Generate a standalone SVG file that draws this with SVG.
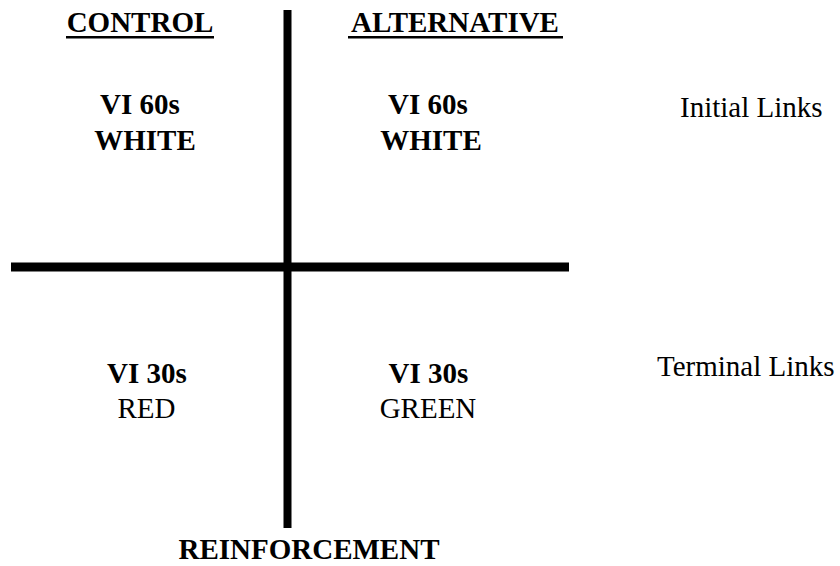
<svg xmlns="http://www.w3.org/2000/svg" width="840" height="566" viewBox="0 0 840 566">
<style>
text{font-family:"Liberation Serif","Times New Roman",serif;font-size:29px;fill:#000}
.b{font-weight:bold}
.c{text-anchor:middle}
</style>
<rect width="840" height="566" fill="#fff"/>
<g id="connectors">
<line x1="287.5" y1="10" x2="287.5" y2="528" stroke="#000" stroke-width="8"/>
<line x1="11" y1="267" x2="569" y2="267" stroke="#000" stroke-width="9"/>
</g>
<g id="control-header">
<text class="b c" x="140" y="32">CONTROL</text>
<line x1="66" y1="37.2" x2="214" y2="37.2" stroke="#000" stroke-width="2.5"/>
</g>
<g id="alternative-header">
<text class="b c" x="455" y="32">ALTERNATIVE</text>
<line x1="348" y1="37.2" x2="563" y2="37.2" stroke="#000" stroke-width="2.5"/>
</g>
<g id="control-initial">
<text class="b c" x="140" y="114">VI 60s</text>
<text class="b c" x="145" y="150">WHITE</text>
</g>
<g id="alternative-initial">
<text class="b c" x="428" y="114">VI 60s</text>
<text class="b c" x="431" y="150">WHITE</text>
</g>
<g id="initial-links">
<text x="680" y="117">Initial Links</text>
</g>
<g id="control-terminal">
<text class="b c" x="147" y="383">VI 30s</text>
<text class="c" x="146.5" y="418">RED</text>
</g>
<g id="alternative-terminal">
<text class="b c" x="428.5" y="383">VI 30s</text>
<text class="c" x="428" y="418">GREEN</text>
</g>
<g id="terminal-links">
<text x="657" y="376">Terminal Links</text>
</g>
<g id="reinforcement">
<text class="b c" x="309" y="559">REINFORCEMENT</text>
</g>
</svg>
